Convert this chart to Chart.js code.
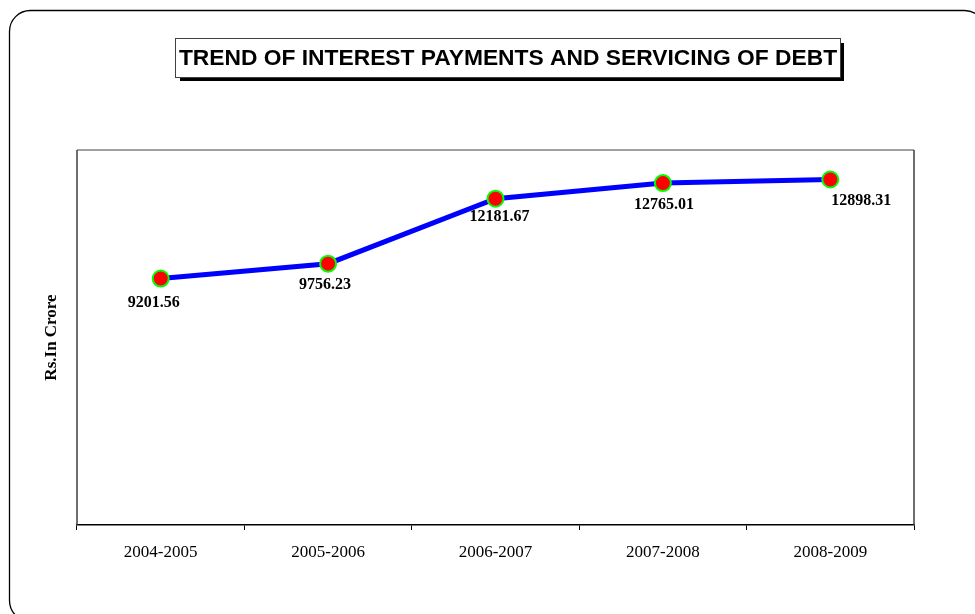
<!DOCTYPE html>
<html>
<head>
<meta charset="utf-8">
<script src="https://cdn.jsdelivr.net/npm/chart.js@4"></script>
<style>
  html, body { margin: 0; padding: 0; background: #fff; }
  #wrap { width: 975px; height: 614px; }
</style>
</head>
<body>
<div id="wrap"><canvas id="debtChart" width="975" height="614"></canvas></div>
<script>
// ---------------- Daten ----------------
const years = ["2004-2005", "2005-2006", "2006-2007", "2007-2008", "2008-2009"];
const interestPayments = [9201.56, 9756.23, 12181.67, 12765.01, 12898.31];
const yRange = [0, 14000];

const chartTitle = "TREND OF INTEREST PAYMENTS AND SERVICING OF DEBT";
const yTitle = "Rs.In Crore";

// label nudges (dx, dy) relative to each point
const labelNudge = [[-7, 24], [-3, 21], [4, 18], [1, 22], [31, 21]];

// ---------------- Rahmen, Titel, Werte ----------------
const framePlugin = {
    id: "frame",
    beforeDraw(chart) {
        const ctx = chart.ctx;
        ctx.save();
        ctx.fillStyle = "#fff";
        ctx.fillRect(0, 0, chart.width, chart.height);

        // outer rounded border
        ctx.strokeStyle = "#000";
        ctx.lineWidth = 1.3;
        ctx.beginPath();
        ctx.roundRect(9.5, 10.5, 976, 611, 21);
        ctx.stroke();

        // title box with shadow
        ctx.fillStyle = "#000";
        ctx.fillRect(180, 43, 664, 38);
        ctx.fillStyle = "#fff";
        ctx.fillRect(175.5, 38.5, 665, 39);
        ctx.strokeStyle = "#404040";
        ctx.lineWidth = 1;
        ctx.strokeRect(175.5, 38.5, 665, 39);

        ctx.fillStyle = "#000";
        ctx.font = "bold 22.8px 'Liberation Sans', Arial, sans-serif";
        ctx.textAlign = "center";
        ctx.textBaseline = "middle";
        ctx.fillText(chartTitle, 508, 58.5);
        ctx.restore();
    },
    beforeDatasetsDraw(chart) {
        const { ctx, chartArea: a } = chart;
        ctx.save();
        ctx.lineWidth = 1.5;
        ctx.strokeStyle = "#808080";
        ctx.beginPath();
        ctx.moveTo(a.left, a.top);
        ctx.lineTo(a.right, a.top);
        ctx.stroke();
        ctx.strokeStyle = "#404040";
        ctx.beginPath();
        ctx.moveTo(a.left, a.top);
        ctx.lineTo(a.left, a.bottom);
        ctx.moveTo(a.right, a.top);
        ctx.lineTo(a.right, a.bottom);
        ctx.stroke();
        ctx.restore();
    },
    afterDatasetsDraw(chart) {
        const ctx = chart.ctx;
        const meta = chart.getDatasetMeta(0);
        ctx.save();
        ctx.fillStyle = "#000";
        ctx.font = "bold 16px 'Liberation Serif', 'Times New Roman', serif";
        ctx.textAlign = "center";
        ctx.textBaseline = "middle";
        meta.data.forEach((pt, i) => {
            const [dx, dy] = labelNudge[i];
            ctx.fillText(interestPayments[i].toFixed(2), pt.x + dx, pt.y + dy);
        });
        ctx.restore();
    }
};

// ---------------- Diagramm ----------------
const ctx = document.getElementById("debtChart").getContext("2d");

new Chart(ctx, {
    type: "line",
    data: {
        labels: years,
        datasets: [{
            data: interestPayments,
            borderColor: "#0000FF",
            borderWidth: 5,
            tension: 0,
            pointRadius: 8,
            pointHoverRadius: 8,
            pointBackgroundColor: "#FF0000",
            pointBorderColor: "#00FF00",
            pointBorderWidth: 2
        }]
    },
    options: {
        responsive: false,
        animation: false,
        layout: { padding: { left: 37, top: 150, right: 61, bottom: 0 } },
        plugins: {
            legend: { display: false },
            tooltip: { enabled: false }
        },
        scales: {
            x: {
                offset: true,
                grid: {
                    offset: true,
                    drawOnChartArea: false,
                    drawTicks: true,
                    tickLength: 5,
                    color: "#000"
                },
                border: { display: true, color: "#000", width: 1.5 },
                ticks: {
                    color: "#000",
                    padding: 12,
                    maxRotation: 0,
                    font: { family: "'Liberation Serif', 'Times New Roman', serif", size: 17 }
                },
                afterFit(scale) { scale.height = 89; }
            },
            y: {
                min: yRange[0],
                max: yRange[1],
                grid: { display: false },
                border: { display: false },
                ticks: { display: false },
                title: {
                    display: true,
                    text: yTitle,
                    color: "#000",
                    font: { family: "'Liberation Serif', 'Times New Roman', serif", size: 17, weight: "bold" }
                },
                afterFit(scale) { scale.width = 40; }
            }
        }
    },
    plugins: [framePlugin]
});
</script>
</body>
</html>
